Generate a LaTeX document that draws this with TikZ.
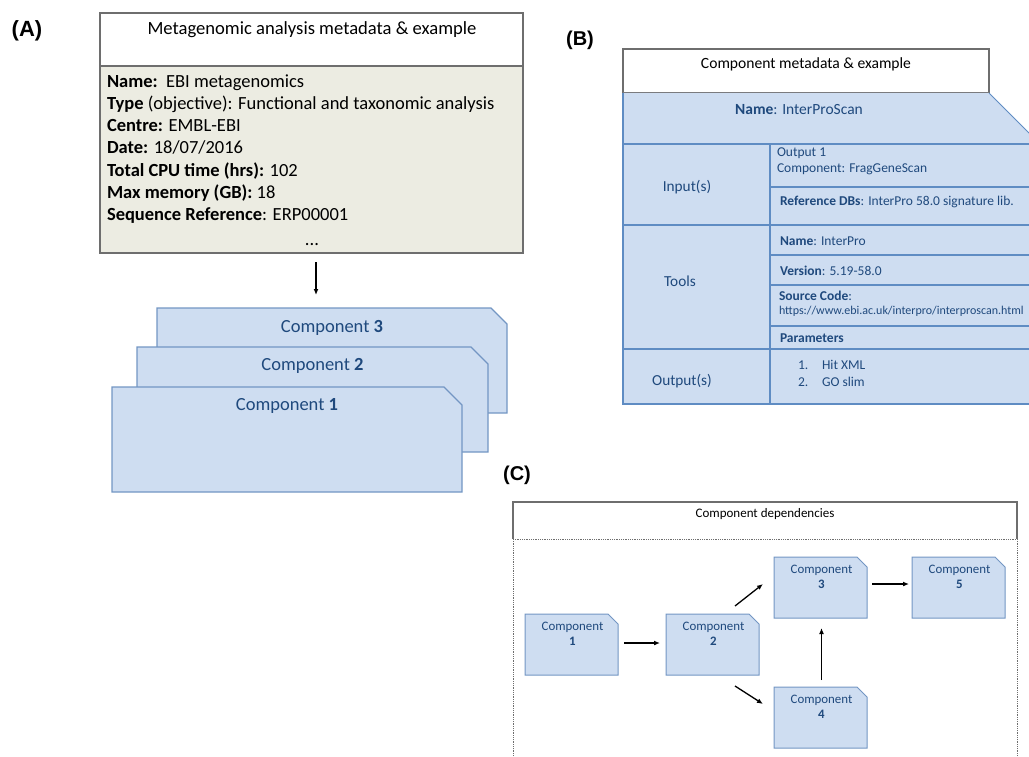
\documentclass[tikz,border=0pt]{standalone}
\usepackage{fontspec}
\setmainfont{Carlito}
\newfontfamily\labfont{Liberation Sans}
\usetikzlibrary{arrows.meta,calc}

\definecolor{beige}{RGB}{236,236,226}
\definecolor{frame}{RGB}{110,110,110}
\definecolor{bfill}{RGB}{206,221,241}
\definecolor{bline}{RGB}{115,150,195}
\definecolor{tline}{RGB}{95,140,195}
\definecolor{btext}{RGB}{31,73,125}

\newcommand{\fs}[1]{\fontsize{#1}{#1}\selectfont}
\newcommand{\cutshape}[3]{%
  \path[#3] (#1.south west) -- (#1.north west) -- ([xshift=-#2]#1.north east)
    -- ([yshift=-#2]#1.north east) -- (#1.south east) -- cycle;}

\begin{document}
\begin{tikzpicture}[x=1pt,y=-1pt,
  every node/.style={inner sep=0pt, outer sep=0pt},
  panel/.style={font=\labfont\bfseries\fs{20}, anchor=base},
  holder/.style={draw=none, anchor=north west},
  compshape/.style={fill=bfill, draw=bline, line width=1.2pt, line join=miter},
  bigtxt/.style={font=\fs{18.5}, text=btext, anchor=base},
  smalltxt/.style={font=\fs{12.9}, text=btext, anchor=base},
  celltxt/.style={font=\fs{13.5}, text=btext, anchor=base west},
  coltxt/.style={font=\fs{15.3}, text=btext, anchor=base},
  bodytxt/.style={font=\fs{18.5}, anchor=base west},
  arr/.style={line width=1.3pt, -{Latex[length=6pt,width=5pt]}},
  major/.style={draw=tline, line width=2pt},
  minor/.style={draw=tline, line width=1.4pt}]
\useasboundingbox (0,0) rectangle (1029,757);
\clip (0,0) rectangle (1029,757);

% ---------------- Panel A ----------------
\node[panel, font=\labfont\bfseries\fs{22}] (labA) at (27,37) {(A)};
\node[holder, draw=frame, fill=white, line width=1.2pt, minimum width=423pt, minimum height=53pt] (ahead) at (100,13) {};
\node[anchor=base, font=\fs{18.6}] (atitle) at (312,35) {Metagenomic analysis metadata \& example};
\node[holder, draw=frame, fill=beige, line width=1.5pt, minimum width=423pt, minimum height=187pt] (abody) at (100,66) {};
\node[bodytxt] (l1) at (107,88) {\textbf{Name:}\ \ EBI metagenomics};
\node[bodytxt] (l2) at (107,110) {\textbf{Type} (objective): Functional and taxonomic analysis};
\node[bodytxt] (l3) at (107,132) {\textbf{Centre:} EMBL-EBI};
\node[bodytxt] (l4) at (107,154) {\textbf{Date:} 18/07/2016};
\node[bodytxt] (l5) at (107,177) {\textbf{Total CPU time (hrs):} 102};
\node[bodytxt] (l6) at (107,199) {\textbf{Max memory (GB):} 18};
\node[bodytxt] (l7) at (107,221) {\textbf{Sequence Reference}: ERP00001};
\node[anchor=base, font=\fs{18.5}] (l8) at (312,245) {...};

\node[holder, minimum width=350pt, minimum height=105pt] (a3) at (157,308) {};
\cutshape{a3}{16pt}{compshape}
\node[bigtxt] (a3t) at (332,332) {Component \textbf{3}};
\node[holder, minimum width=351pt, minimum height=105pt] (a2) at (137,347) {};
\cutshape{a2}{17pt}{compshape}
\node[bigtxt] (a2t) at (312.5,370) {Component \textbf{2}};
\node[holder, minimum width=350pt, minimum height=105pt] (a1) at (112,387) {};
\cutshape{a1}{18pt}{compshape}
\node[bigtxt] (a1t) at (287,410) {Component \textbf{1}};

\draw[arr] ([shift={(4.5,9)}]abody.south) -- ([shift={(-16,-13)}]a3.north);

% ---------------- Panel B ----------------
\node[panel] (labB) at (580,46) {(B)};
\node[holder, draw=frame, fill=white, line width=1.2pt, minimum width=366pt, minimum height=44pt] (bhead) at (623,49) {};
\node[anchor=base, font=\fs{15.6}] (btitle) at (806,69) {Component metadata \& example};
\fill[bfill] (623,93) -- (989,93) -- (1040,144) -- (1040,404) -- (623,404) -- cycle;
\draw[tline, line width=0.8pt] (989,93) -- (1040,144);
\draw[major, line width=1.5pt] (623,93) -- (623,404) -- (1040,404);
\draw[major] (623,144) -- (1040,144);
\draw[major] (623,225) -- (1040,225);
\draw[major] (623,349) -- (1040,349);
\draw[major] (770,144) -- (770,404);
\draw[minor] (770,187) -- (1040,187);
\draw[minor] (770,255) -- (1040,255);
\draw[minor] (770,285) -- (1040,285);
\draw[minor] (770,326) -- (1040,326);

\node[coltxt, font=\fs{15.5}] (bname) at (799,115) {\textbf{Name}: InterProScan};
\node[coltxt] (binp) at (687,192) {Input(s)};
\node[coltxt] (btools) at (680,286) {Tools};
\node[coltxt] (bout) at (682,385) {Output(s)};
\node[celltxt] (bo1) at (777,157) {Output 1};
\node[celltxt] (bo2) at (777,173) {Component: FragGeneScan};
\node[celltxt] (bref) at (780,206) {\textbf{Reference DBs}: InterPro 58.0 signature lib.};
\node[celltxt] (btn) at (780,245) {\textbf{Name}: InterPro};
\node[celltxt] (btv) at (780,275) {\textbf{Version}: 5.19-58.0};
\node[celltxt] (bts) at (779,300) {\textbf{Source Code}:};
\node[celltxt, font=\fs{12}] (btu) at (779,314) {https://www.ebi.ac.uk/interpro/interproscan.html};
\node[celltxt] (btp) at (780,342) {\textbf{Parameters}};
\node[celltxt] (bn1) at (798,369) {1.};
\node[celltxt] (bh1) at (822,369) {Hit XML};
\node[celltxt] (bn2) at (798,386) {2.};
\node[celltxt] (bh2) at (822,386) {GO slim};

% ---------------- Panel C ----------------
\node[panel] (labC) at (517,480) {(C)};
\node[holder, fill=white, minimum width=504pt, minimum height=37pt] (chead) at (513,502) {};
\draw[frame, line width=1.1pt] (chead.south west) -- (chead.north west) -- (chead.north east) -- (chead.south east);
\draw[frame, line width=0.8pt, densely dotted] (chead.south west) -- (chead.south east);
\draw[frame, line width=0.8pt, densely dotted] (chead.south west) -- (513,770);
\draw[frame, line width=0.8pt, densely dotted] (chead.south east) -- (1017,770);
\node[anchor=base, font=\fs{13}] (ctitle) at (765,517) {Component dependencies};

\foreach \n/\x/\y/\d in {c1/525/614/1, c2/666/614/2, c3/774/557/3, c5/912/557/5, c4/774/687/4}{
  \node[holder, minimum width=93pt, minimum height=61pt] (\n) at (\x,\y) {};
  \cutshape{\n}{10pt}{compshape, line width=1pt}
  \node[smalltxt] (\n a) at ($(\n.north)+(1,16)$) {Component};
  \node[smalltxt] (\n b) at ($(\n.north)+(1,31)$) {\textbf{\d}};
}

\draw[arr] ([shift={(6,-1.5)}]c1.east) -- ([shift={(-6,-1.5)}]c2.west);
\draw[arr] ([shift={(-24,-8)}]c2.north east) -- ([shift={(-11,-3.5)}]c3.west);
\draw[arr] ([shift={(-24,11)}]c2.south east) -- ([shift={(-11,-13.5)}]c4.west);
\draw[arr] ([shift={(1,-7)}]c4.north) -- ([shift={(1,10)}]c3.south);
\draw[arr] ([shift={(5,-3.5)}]c3.east) -- ([shift={(-3,-3.5)}]c5.west);
\end{tikzpicture}
\end{document}
